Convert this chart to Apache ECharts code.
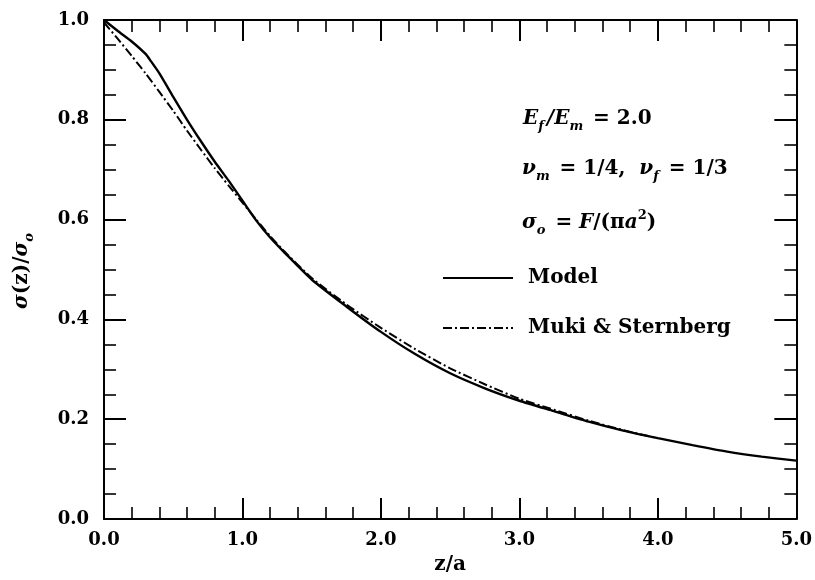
<!DOCTYPE html>
<html>
<head>
<meta charset="utf-8">
<script src="https://cdn.jsdelivr.net/npm/echarts@6/dist/echarts.min.js"></script>
<style>
  html, body { margin: 0; padding: 0; background: #fff; }
  #main { width: 815px; height: 580px; }
</style>
</head>
<body>
<div id="main"></div>
<script>
// z/a positions
var modelX = [0, 0.1, 0.2, 0.3, 0.34, 0.4, 0.5, 0.6, 0.7, 0.8, 0.9, 1.0, 1.1, 1.2, 1.3, 1.5, 1.75, 2.0, 2.25, 2.5, 2.75, 3.0, 3.25, 3.5, 3.75, 4.0, 4.25, 4.5, 4.75, 5.0];
var modelY = [1.0, 0.978, 0.957, 0.932, 0.917, 0.893, 0.846, 0.800, 0.757, 0.716, 0.678, 0.638, 0.598, 0.564, 0.535, 0.480, 0.426, 0.375, 0.330, 0.292, 0.262, 0.237, 0.216, 0.195, 0.177, 0.162, 0.148, 0.135, 0.125, 0.117];

var mukiX = [0, 0.1, 0.2, 0.3, 0.4, 0.5, 0.6, 0.7, 0.8, 0.9, 1.0, 1.1, 1.2, 1.3, 1.5, 1.75, 2.0, 2.25, 2.5, 2.75, 3.0, 3.25, 3.5, 3.75, 4.0];
var mukiY = [0.995, 0.962, 0.928, 0.893, 0.856, 0.818, 0.778, 0.740, 0.703, 0.668, 0.634, 0.600, 0.567, 0.537, 0.483, 0.430, 0.383, 0.340, 0.302, 0.270, 0.241, 0.219, 0.197, 0.178, 0.162];

var seriesNames = ['Model', 'Muki & Sternberg'];

function pairs(xs, ys) {
    return xs.map(function (x, i) { return [x, ys[i]]; });
}

var FONT = 'DejaVu Serif';
var mathRich = {
    i: { fontFamily: FONT, fontStyle: 'italic', fontWeight: 'bold', fontSize: 20, lineHeight: 28, color: '#000' },
    n: { fontFamily: FONT, fontWeight: 'bold', fontSize: 20, lineHeight: 28, color: '#000' },
    s: { fontFamily: FONT, fontStyle: 'italic', fontWeight: 'bold', fontSize: 13, lineHeight: 14, verticalAlign: 'bottom', color: '#000', padding: [0, 3, 0, 0] },
    p: { fontFamily: FONT, fontWeight: 'bold', fontSize: 13, lineHeight: 14, verticalAlign: 'top', color: '#000' }
};

var chart = echarts.init(document.getElementById('main'));

var xCommon = {
    type: 'value', min: 0, max: 5, interval: 1,
    axisLine: { show: true, onZero: false, lineStyle: { color: '#000', width: 2 } },
    axisTick: { show: true, inside: true, length: 21, lineStyle: { color: '#000', width: 2 } },
    minorTick: { show: true, splitNumber: 5, length: 12, lineStyle: { color: '#000', width: 1.6 } },
    splitLine: { show: false }
};
var yCommon = {
    type: 'value', min: 0, max: 1, interval: 0.2,
    axisLine: { show: true, onZero: false, lineStyle: { color: '#000', width: 2 } },
    axisTick: { show: true, inside: true, length: 22, lineStyle: { color: '#000', width: 2 } },
    minorTick: { show: true, splitNumber: 4, length: 12, lineStyle: { color: '#000', width: 1.6 } },
    splitLine: { show: false }
};

var option = {
    backgroundColor: '#fff',
    animation: false,
    grid: { left: 104, right: 17, top: 20, bottom: 58 },
    xAxis: [
        Object.assign({}, xCommon, {
            position: 'bottom',
            name: 'z/a', nameLocation: 'middle', nameGap: 36,
            nameTextStyle: { fontFamily: FONT, fontWeight: 'bold', fontSize: 20, color: '#000' },
            axisLabel: { margin: 12, fontFamily: FONT, fontWeight: 'bold', fontSize: 18, color: '#000',
                formatter: function (v) { return v.toFixed(1); } }
        }),
        Object.assign({}, xCommon, { position: 'top', axisLabel: { show: false } })
    ],
    yAxis: [
        Object.assign({}, yCommon, {
            position: 'left',
            name: '{i|σ}{n|(z)/}{i|σ}{s|o}', nameLocation: 'middle', nameGap: 68,
            nameTextStyle: { rich: mathRich },
            axisLabel: { margin: 15, fontFamily: FONT, fontWeight: 'bold', fontSize: 18, color: '#000',
                formatter: function (v) { return v.toFixed(1); } }
        }),
        Object.assign({}, yCommon, { position: 'right', axisLabel: { show: false } })
    ],
    legend: {
        data: seriesNames,
        orient: 'vertical',
        left: 437, top: 259,
        itemWidth: 70, itemHeight: 14, itemGap: 22,
        itemStyle: { opacity: 0 },
        textStyle: { fontFamily: FONT, fontWeight: 'bold', fontSize: 20, color: '#000', padding: [0, 0, 0, 10], lineHeight: 28 }
    },
    graphic: [
        { type: 'text', left: 523, top: 109,
          style: { text: '{i|E}{s|f}{i|/E}{s|m}{n| = 2.0}', rich: mathRich } },
        { type: 'text', left: 522, top: 159,
          style: { text: '{i|ν}{s|m}{n| = 1/4,  }{i|ν}{s|f}{n| = 1/3}', rich: mathRich } },
        { type: 'text', left: 522, top: 209,
          style: { text: '{i|σ}{s|o}{n| = }{i|F}{n|/(π}{i|a}{p|2}{n|)}', rich: mathRich } }
    ],
    series: [
        {
            name: seriesNames[0], type: 'line', xAxisIndex: 0, yAxisIndex: 0,
            data: pairs(modelX, modelY),
            smooth: 0.2, symbol: 'none',
            lineStyle: { color: '#000', width: 2.4 },
            itemStyle: { color: '#000' }
        },
        {
            name: seriesNames[1], type: 'line', xAxisIndex: 0, yAxisIndex: 0,
            data: pairs(mukiX, mukiY),
            smooth: 0.2, symbol: 'none',
            lineStyle: { color: '#000', width: 2, type: [9, 3, 2, 3] },
            itemStyle: { color: '#000' }
        }
    ]
};
chart.setOption(option);
</script>
</body>
</html>
